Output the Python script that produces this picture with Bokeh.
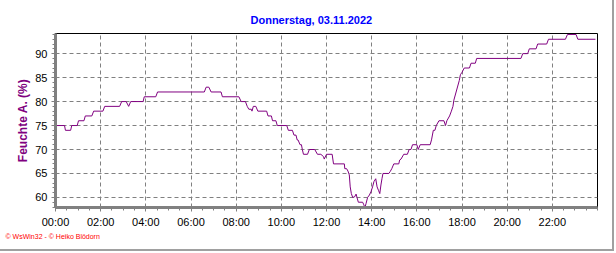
from bokeh.plotting import figure
from bokeh.models import FixedTicker, Range1d, Title
from bokeh.embed import file_html
from bokeh.resources import INLINE

# time of day in hours, relative humidity in %
hours = [0.00, 0.40, 0.44, 0.67, 0.72, 0.96, 1.02, 1.26, 1.32, 1.61, 1.69, 2.10, 2.18, 2.84,
         2.93, 3.13, 3.24, 3.33, 3.88, 3.93, 4.44, 4.52, 6.59, 6.67, 6.79, 6.89, 7.33, 7.39,
         8.12, 8.22, 8.41, 8.49, 8.56, 8.67, 8.70, 8.76, 8.87, 8.96, 9.35, 9.41, 9.56, 9.61,
         9.76, 9.82, 10.24, 10.31, 10.49, 10.56, 10.65, 10.70, 10.74, 10.83, 10.89, 10.93,
         10.98, 11.16, 11.24, 11.48, 11.60, 11.75, 11.87, 11.90, 12.00, 12.25, 12.31, 12.79,
         12.81, 12.89, 12.95, 13.01, 13.05, 13.10, 13.16, 13.24, 13.31, 13.35, 13.41, 13.60,
         13.64, 13.70, 13.75, 13.82, 13.90, 13.97, 14.04, 14.10, 14.18, 14.24, 14.30, 14.36,
         14.41, 14.46, 14.50, 14.76, 14.82, 14.89, 14.98, 15.20, 15.24, 15.30, 15.42, 15.58,
         15.66, 15.74, 15.81, 16.00, 16.06, 16.15, 16.59, 16.65, 16.73, 16.80, 16.86, 16.98,
         17.20, 17.27, 17.33, 17.45, 17.53, 17.60, 17.64, 17.88, 17.93, 18.00, 18.10, 18.33,
         18.40, 18.59, 18.65, 20.61, 20.69, 20.91, 20.98, 21.28, 21.35, 21.75, 21.83, 22.58,
         22.67, 23.05, 23.13, 23.91]
humidity = [75, 75, 74, 74, 75, 75, 76, 76, 77, 77, 78, 78, 79, 79,
            80, 80, 79, 80, 80, 81, 81, 82, 82, 83, 83, 82, 82, 81,
            81, 80, 80, 79, 78.4, 78.4, 78, 79, 79, 78, 78, 77, 77, 76,
            76, 75, 75, 74, 74, 73, 73, 72, 72, 71, 71, 70,
            69, 69, 70, 70, 69, 69, 68.5, 68, 69, 69, 67, 67,
            66, 66, 65.5, 64.7, 62.2, 60.8, 60, 60.1, 60.7, 60, 59, 59,
            58.6, 57.9, 58.7, 60, 60.5, 61.2, 62.2, 63.3, 63.9, 62.2, 61.5, 60.8,
            62.6, 64, 65, 65, 65.4, 66, 67, 67, 67.8, 68, 69, 69,
            70, 70, 71, 71, 70, 71, 71, 72, 74, 74, 75, 76,
            76, 75, 76, 77, 78, 79, 80.3, 84.4, 85.6, 86.1, 87, 87,
            88, 88, 89, 89, 90, 90, 91, 91, 92, 92, 93, 93,
            94, 94, 93, 93]

x_ticks = [0, 2, 4, 6, 8, 10, 12, 14, 16, 18, 20, 22]
x_tick_labels = ["00:00", "02:00", "04:00", "06:00", "08:00", "10:00",
                 "12:00", "14:00", "16:00", "18:00", "20:00", "22:00"]
y_ticks = [60, 65, 70, 75, 80, 85, 90]

title_text = "Donnerstag, 03.11.2022"
y_label = "Feuchte A. (%)"
credit_text = "\u00a9 WsWin32 - \u00a9 Heiko Bl\u00f6dorn"

p = figure(width=614, height=251, output_backend="svg", toolbar_location=None,
           x_range=Range1d(0, 24), y_range=Range1d(57.9, 94.2),
           min_border_left=55, min_border_right=17, min_border_top=33, min_border_bottom=44)
p.styles = {"border-right": "2px solid #a0a0a0", "border-bottom": "2px solid #a0a0a0"}
p.background_fill_color = "white"
p.border_fill_color = "white"
p.outline_line_color = "black"
p.outline_line_width = 1

p.add_layout(Title(text=title_text, align="left", text_color="#0000ff",
                   text_font="Liberation Sans", text_font_size="11px", text_font_style="bold",
                   offset=195, standoff=16), "above")

p.line(hours, humidity, line_color="#800080", line_width=1)

for ax in (p.xaxis[0], p.yaxis[0]):
    ax.axis_line_color = "#808080"
    ax.axis_line_width = 3
    ax.major_tick_line_color = "#808080"
    ax.minor_tick_line_color = "#808080"
    ax.major_tick_in = 0
    ax.minor_tick_in = 0
    ax.major_tick_out = 4
    ax.minor_tick_out = 3
    ax.major_label_text_font = "Liberation Sans"
    ax.major_label_text_font_size = "11px"
    ax.major_label_text_color = "black"

p.xaxis.ticker = FixedTicker(ticks=x_ticks, minor_ticks=[i * 0.5 for i in range(49)])
p.xaxis.major_label_overrides = {t: l for t, l in zip(x_ticks, x_tick_labels)}
p.xaxis.major_label_standoff = 4

p.yaxis.ticker = FixedTicker(ticks=y_ticks, minor_ticks=list(range(58, 95)))
p.yaxis.major_label_standoff = 4
p.yaxis.axis_label = y_label
p.yaxis.axis_label_text_color = "#800080"
p.yaxis.axis_label_text_font = "Liberation Sans"
p.yaxis.axis_label_text_font_size = "12px"
p.yaxis.axis_label_text_font_style = "bold"
p.yaxis.axis_label_standoff = 2

p.xgrid.ticker = FixedTicker(ticks=x_ticks[1:])
p.ygrid.ticker = FixedTicker(ticks=y_ticks)
for g in (p.xgrid[0], p.ygrid[0]):
    g.grid_line_color = "#808080"
    g.grid_line_dash = "4 3"
    g.grid_line_width = 1

p.add_layout(Title(text=credit_text, align="left", text_color="#ff0000",
                   text_font="Liberation Sans", text_font_size="7px", text_font_style="normal",
                   offset=-50, standoff=0), "below")

open("out.html", "w").write(file_html(p, INLINE))
